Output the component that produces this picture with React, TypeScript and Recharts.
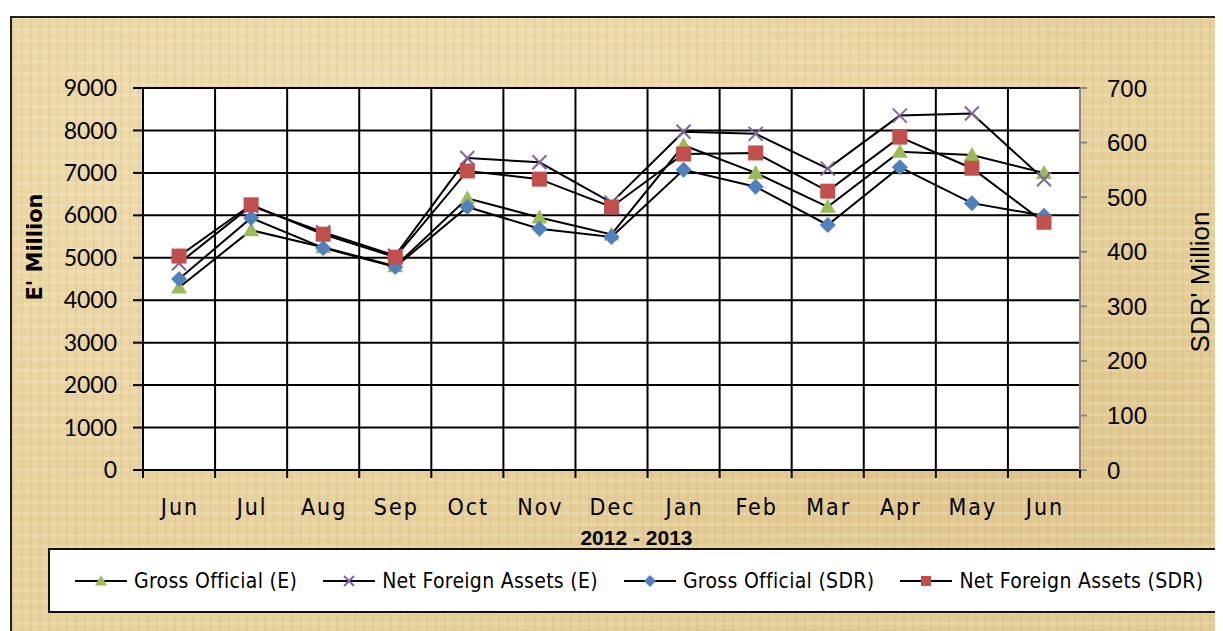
import React from 'react';
import { LineChart, Line, XAxis, YAxis, CartesianGrid, Legend } from 'recharts';

const months = ['Jun', 'Jul', 'Aug', 'Sep', 'Oct', 'Nov', 'Dec', 'Jan', 'Feb', 'Mar', 'Apr', 'May', 'Jun'];
const grossOfficialE = [4300, 5650, 5250, 4800, 6400, 5950, 5550, 7650, 7000, 6200, 7500, 7420, 7000];
const netForeignAssetsE = [4870, 6220, 5600, 5050, 7350, 7250, 6300, 7970, 7920, 7100, 8350, 8400, 6850];
const grossOfficialSDR = [350, 462, 407, 372, 482, 442, 427, 550, 519, 449, 555, 489, 466];
const netForeignAssetsSDR = [392, 486, 432, 390, 548, 533, 482, 579, 581, 511, 610, 553, 454];
const leftTicks = [0, 1000, 2000, 3000, 4000, 5000, 6000, 7000, 8000, 9000];
const rightTicks = [0, 100, 200, 300, 400, 500, 600, 700];
const xTitle = '2012 - 2013';
const leftTitle = "E' Million";
const rightTitle = "SDR' Million";

const data = months.map((m, i) => ({
  i,
  month: m,
  gE: grossOfficialE[i],
  nE: netForeignAssetsE[i],
  gS: grossOfficialSDR[i],
  nS: netForeignAssetsSDR[i],
}));

const edgeTicks = Array.from({ length: months.length + 1 }, (_, k) => k - 0.5);
const labelTicks = months.map((_, i) => i);
const allXTicks = [...edgeTicks, ...labelTicks].sort((a, b) => a - b);
const xDomain = [-0.5, months.length - 0.5];

const GREEN = '#9bbb59';
const PURPLE = '#8064a2';
const BLUE = '#4f81bd';
const RED = '#c0504d';
const COND = "'DejaVu Sans Condensed', 'DejaVu Sans', sans-serif";

const Tri = ({ cx, cy, s = 8, c = GREEN }: any) => (
  <polygon points={`${cx},${cy - s} ${cx - s},${cy + s * 0.75} ${cx + s},${cy + s * 0.75}`} fill={c} />
);
const Cross = ({ cx, cy, s = 7, c = PURPLE }: any) => (
  <g stroke={c} strokeWidth={2}>
    <line x1={cx - s} y1={cy - s} x2={cx + s} y2={cy + s} />
    <line x1={cx - s} y1={cy + s} x2={cx + s} y2={cy - s} />
  </g>
);
const Diamond = ({ cx, cy, s = 8, c = BLUE }: any) => (
  <polygon points={`${cx},${cy - s} ${cx + s},${cy} ${cx},${cy + s} ${cx - s},${cy}`} fill={c} />
);
const Square = ({ cx, cy, s = 7.5, c = RED }: any) => (
  <rect x={cx - s} y={cy - s} width={s * 2} height={s * 2} fill={c} />
);

const dotTri = (p: any) => <Tri key={`t${p.index}`} cx={p.cx} cy={p.cy} />;
const dotCross = (p: any) => <Cross key={`x${p.index}`} cx={p.cx} cy={p.cy} />;
const dotDiamond = (p: any) => <Diamond key={`d${p.index}`} cx={p.cx} cy={p.cy} />;
const dotSquare = (p: any) => <Square key={`s${p.index}`} cx={p.cx} cy={p.cy} />;

const XTick = (props: any) => {
  const { x, y, payload } = props;
  const v = payload.value;
  if (Number.isInteger(v)) {
    return (
      <text x={x + 1} y={y + 37} textAnchor="middle" dominantBaseline="central" fontFamily={COND} fontSize={23}
        letterSpacing={2} fill="#000">
        {months[v]}
      </text>
    );
  }
  return <line x1={x} x2={x} y1={y} y2={y + 8} stroke="#000" strokeWidth={2} />;
};

const legendItems = [
  { name: 'Gross Official (E)', M: Tri, s: 6 },
  { name: 'Net Foreign Assets (E)', M: Cross, s: 5 },
  { name: 'Gross Official (SDR)', M: Diamond, s: 6 },
  { name: 'Net Foreign Assets (SDR)', M: Square, s: 5 },
];

const LegendContent = () => (
  <div
    style={{
      boxSizing: 'border-box',
      height: 65,
      width: 1200,
      border: '2px solid #111',
      background: '#fff',
      display: 'flex',
      alignItems: 'center',
      paddingLeft: 25,
      fontFamily: COND,
      fontSize: 21,
      letterSpacing: 0.3,
      color: '#000',
      whiteSpace: 'nowrap',
    }}
  >
    {legendItems.map((it, k) => (
      <div key={k} style={{ display: 'flex', alignItems: 'center', marginRight: 26, flexShrink: 0 }}>
        <svg width={52} height={16} style={{ display: 'block' }}>
          <line x1={0} x2={52} y1={8} y2={8} stroke="#000" strokeWidth={2} />
          <it.M cx={26} cy={8} s={it.s} />
        </svg>
        <span style={{ marginLeft: 7 }}>{it.name}</span>
      </div>
    ))}
  </div>
);

const LeftLabel = (props: any) => {
  const vb = props.viewBox;
  const x = vb.x - 33;
  const y = vb.y + vb.height / 2 - 32;
  return (
    <text x={x} y={y} transform={`rotate(-90, ${x}, ${y})`} textAnchor="middle" dominantBaseline="central"
      fontFamily="'DejaVu Sans', sans-serif" fontWeight="bold" fontSize={21} fill="#000">
      {leftTitle}
    </text>
  );
};

const RightLabel = (props: any) => {
  const vb = props.viewBox;
  const x = vb.x + vb.width;
  const y = vb.y + vb.height / 2 + 3;
  return (
    <text x={x} y={y} transform={`rotate(-90, ${x}, ${y})`} textAnchor="middle" dominantBaseline="central"
      fontFamily="'Liberation Sans', Arial, sans-serif" fontSize={26} fill="#000">
      {rightTitle}
    </text>
  );
};

const BottomLabel = (props: any) => {
  const vb = props.viewBox;
  const x = vb.x + vb.width / 2 + 25;
  const y = vb.y + 67;
  return (
    <text x={x} y={y} textAnchor="middle" dominantBaseline="central"
      fontFamily="'Liberation Sans', Arial, sans-serif" fontWeight="bold" fontSize={21} fill="#000">
      {xTitle}
    </text>
  );
};

const papyrus: React.CSSProperties = {
  backgroundColor: '#e7d19c',
  backgroundImage: [
    'repeating-linear-gradient(90deg, rgba(150,110,40,0.07) 0px, rgba(150,110,40,0.07) 2px, transparent 2px, transparent 9px)',
    'repeating-linear-gradient(0deg, rgba(255,250,230,0.18) 0px, rgba(255,250,230,0.18) 3px, transparent 3px, transparent 11px)',
    'radial-gradient(ellipse at 30% 20%, rgba(255,245,215,0.35), transparent 60%)',
    'radial-gradient(ellipse at 80% 70%, rgba(190,150,80,0.18), transparent 55%)',
  ].join(','),
};

export default function App() {
  return (
    <div style={{ position: 'relative', width: 1215, height: 623, overflow: 'hidden' }}>
      <div
        style={{
          position: 'absolute',
          left: 2,
          top: 8,
          width: 1240,
          height: 640,
          border: '2px solid #222',
          ...papyrus,
        }}
      />
      <div style={{ position: 'absolute', left: 0, top: 0 }}>
        <LineChart width={1215} height={623} data={data} margin={{ top: 80, left: 60, right: 23, bottom: 18 }}>
          <XAxis xAxisId="grid" dataKey="i" type="number" domain={xDomain} ticks={edgeTicks} hide allowDataOverflow />
          <XAxis
            dataKey="i"
            type="number"
            domain={xDomain}
            ticks={allXTicks}
            interval={0}
            tick={<XTick />}
            tickLine={false}
            tickSize={0}
            tickMargin={0}
            axisLine={{ stroke: '#000', strokeWidth: 2 }}
            height={78}
            allowDataOverflow
            label={<BottomLabel />}
          />
          <YAxis
            yAxisId="left"
            domain={[0, 9000]}
            ticks={leftTicks}
            interval={0}
            width={75}
            tickSize={10}
            tickMargin={16}
            tickLine={{ stroke: '#000', strokeWidth: 2 }}
            axisLine={{ stroke: '#000', strokeWidth: 2 }}
            tick={{ fontFamily: "Lato, 'DejaVu Sans', sans-serif", fontSize: 23, fill: '#000' }}
            label={<LeftLabel />}
          />
          <YAxis
            yAxisId="right"
            orientation="right"
            domain={[0, 700]}
            ticks={rightTicks}
            interval={0}
            width={120}
            tickSize={7}
            tickMargin={20}
            tickLine={{ stroke: '#888', strokeWidth: 2 }}
            axisLine={{ stroke: '#888', strokeWidth: 2 }}
            tick={{ fontFamily: "'Liberation Sans', Arial, sans-serif", fontSize: 24, fill: '#000' }}
            label={<RightLabel />}
          />
          <CartesianGrid xAxisId="grid" yAxisId="left" stroke="#000" strokeWidth={2} fill="#fff" strokeOpacity={1} />
          <Legend verticalAlign="bottom" content={<LegendContent />} wrapperStyle={{ left: 40, width: 1200 }} />
          <Line yAxisId="left" dataKey="gE" name="Gross Official (E)" stroke="#000" strokeWidth={2} dot={dotTri} activeDot={false} isAnimationActive={false} />
          <Line yAxisId="left" dataKey="nE" name="Net Foreign Assets (E)" stroke="#000" strokeWidth={2} dot={dotCross} activeDot={false} isAnimationActive={false} />
          <Line yAxisId="right" dataKey="gS" name="Gross Official (SDR)" stroke="#000" strokeWidth={2} dot={dotDiamond} activeDot={false} isAnimationActive={false} />
          <Line yAxisId="right" dataKey="nS" name="Net Foreign Assets (SDR)" stroke="#000" strokeWidth={2} dot={dotSquare} activeDot={false} isAnimationActive={false} />
        </LineChart>
      </div>
    </div>
  );
}
